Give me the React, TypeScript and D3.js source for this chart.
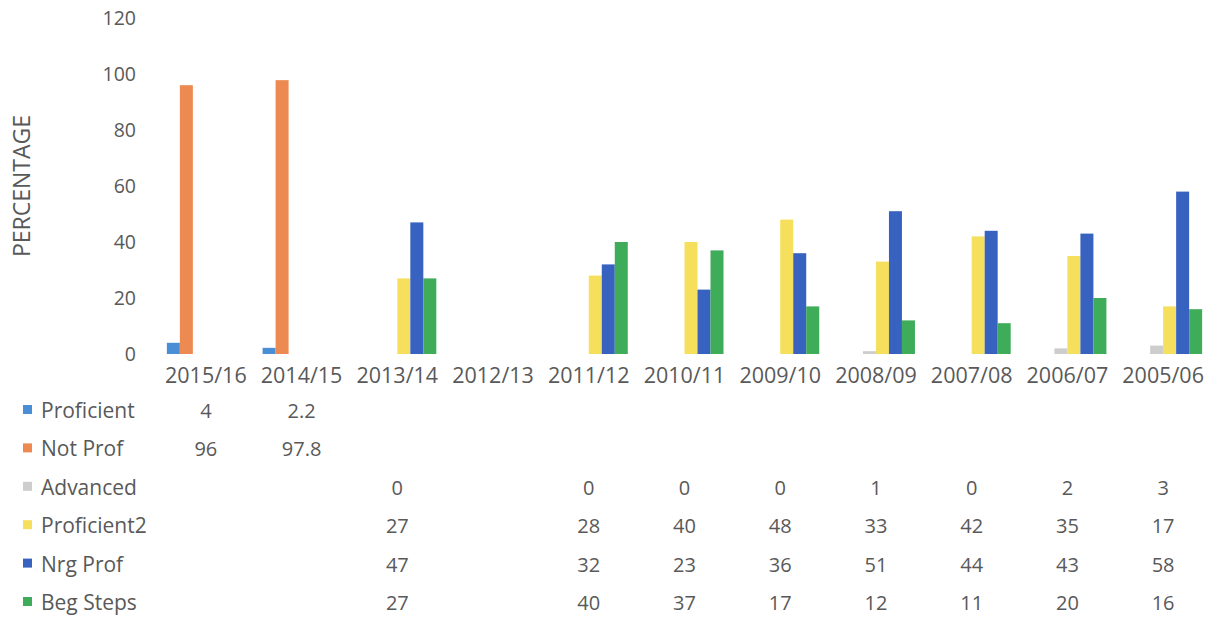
import React from "react";
import * as d3 from "d3";

const categories = ["2015/16", "2014/15", "2013/14", "2012/13", "2011/12", "2010/11", "2009/10", "2008/09", "2007/08", "2006/07", "2005/06"];
const seriesNames = ["Proficient", "Not Prof", "Advanced", "Proficient2", "Nrg Prof", "Beg Steps"];
const proficient = [4, 2.2, null, null, null, null, null, null, null, null, null];
const notProf = [96, 97.8, null, null, null, null, null, null, null, null, null];
const advanced = [null, null, 0, null, 0, 0, 0, 1, 0, 2, 3];
const proficient2 = [null, null, 27, null, 28, 40, 48, 33, 42, 35, 17];
const nrgProf = [null, null, 47, null, 32, 23, 36, 51, 44, 43, 58];
const begSteps = [null, null, 27, null, 40, 37, 17, 12, 11, 20, 16];
const yTicks = [0, 20, 40, 60, 80, 100, 120];
const colors = ["#4a8fd6", "#ec8a52", "#cdcdcd", "#f6df5c", "#3862c0", "#3fac5a"];

const seriesValues: (number | null)[][] = [proficient, notProf, advanced, proficient2, nrgProf, begSteps];

export default function App() {
  const W = 1222, H = 618;
  const x = d3.scaleBand<string>().domain(categories).range([158, 1211]).paddingInner(0).paddingOuter(0);
  const inner = d3.scaleBand<string>().domain(seriesNames).range([0, 78]);
  const y = d3.scaleLinear().domain([0, 120]).range([354, 18]);
  const font = "'Open Sans', sans-serif";
  const textColor = "#595959";
  const rowY = (i: number) => 418 + i * 38.4;

  return (
    <svg width={W} height={H} style={{ position: "absolute", left: 0, top: 0, background: "#fff" }} fontFamily={font}>
      <rect x={0} y={0} width={W} height={H} fill="#fff" />
      {yTicks.map((t) => (
        <text key={t} x={136} y={y(t)} dy="0.35em" textAnchor="end" fontSize={19.5} fill={textColor}>
          {t}
        </text>
      ))}
      <text transform={`translate(30,186) rotate(-90)`} textAnchor="middle" fontSize={23} fill={textColor}>
        PERCENTAGE
      </text>
      {seriesValues.map((vals, si) =>
        vals.map((v, ci) => {
          if (v === null || v === 0) return null;
          const cx = x(categories[ci])! + x.bandwidth() / 2;
          const bx = cx - 39 + inner(seriesNames[si])!;
          return (
            <rect key={`${si}-${ci}`} x={bx} y={y(v)} width={inner.bandwidth()} height={y(0) - y(v)} fill={colors[si]} />
          );
        })
      )}
      {categories.map((c) => (
        <text key={c} x={x(c)! + x.bandwidth() / 2} y={383} textAnchor="middle" fontSize={21.5} fill={textColor}>
          {c}
        </text>
      ))}
      {seriesNames.map((s, si) => (
        <g key={s}>
          <rect x={23} y={rowY(si) - 13} width={9} height={9} fill={colors[si]} />
          <text x={41} y={rowY(si)} fontSize={21} fill={textColor}>
            {s}
          </text>
          {seriesValues[si].map((v, ci) =>
            v === null ? null : (
              <text key={ci} x={x(categories[ci])! + x.bandwidth() / 2} y={rowY(si)} textAnchor="middle" fontSize={20} fill={textColor}>
                {v}
              </text>
            )
          )}
        </g>
      ))}
    </svg>
  );
}
